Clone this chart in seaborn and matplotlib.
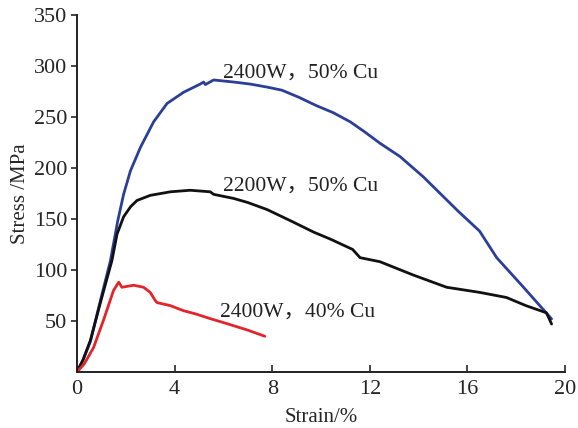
import numpy as np
import pandas as pd
import seaborn as sns
import matplotlib.pyplot as plt

# curves: strain (%) / stress (MPa)
strain_2400_50 = [0, 0.25, 0.55, 0.96, 1.37, 1.67, 1.91, 2.19, 2.6, 3.14, 3.69, 4.37,
                  5.05, 5.19, 5.26, 5.6, 6.42, 7.1, 7.8, 8.4, 9.1, 9.8, 10.5, 11.2,
                  11.8, 12.42, 13.24, 14.2, 15.6, 16.5, 17.2, 18.3, 19.45]
stress_2400_50 = [0, 12, 30, 70, 109, 148, 174, 197, 220, 245, 263, 274,
                  282, 284, 281.5, 286, 284, 282, 279, 276, 269, 261, 254, 245,
                  235, 224, 211, 191, 158, 138, 112, 83, 52]

strain_2200_50 = [0, 0.25, 0.55, 0.96, 1.43, 1.64, 1.91, 2.2, 2.46, 3.0, 3.83, 4.64,
                  5.46, 5.6, 6.42, 7.0, 7.8, 8.85, 9.7, 10.4, 11.3, 11.6, 12.42,
                  13.78, 15.15, 16.5, 17.6, 18.4, 19.24, 19.45]
stress_2200_50 = [0, 12, 31, 68, 109, 135, 152, 162, 168, 173, 176.5, 178,
                  176.5, 174, 170, 166, 159, 147, 137, 130, 120, 112, 108,
                  95, 83, 78, 73, 65, 58, 47]

strain_2400_40 = [0, 0.3, 0.68, 1.09, 1.5, 1.71, 1.84, 2.32, 2.73, 3.0, 3.21, 3.28,
                  3.83, 4.37, 4.85, 5.5, 6.2, 7.0, 7.7]
stress_2400_40 = [0, 8, 24, 51, 80, 88, 83, 85, 83, 78, 70, 68,
                  65, 60, 57, 52, 47, 41, 35]

labels = ["2400W，50% Cu", "2200W，50% Cu", "2400W，40% Cu"]
label_pos = [(5.98, 288), (6.0, 178), (5.86, 54.5)]
colors = ["#2b3f98", "#111111", "#e3242b"]

df = pd.concat([
    pd.DataFrame({"strain": strain_2400_50, "stress": stress_2400_50, "sample": labels[0]}),
    pd.DataFrame({"strain": strain_2200_50, "stress": stress_2200_50, "sample": labels[1]}),
    pd.DataFrame({"strain": strain_2400_40, "stress": stress_2400_40, "sample": labels[2]}),
])

sns.set_style("ticks")
plt.rcParams['font.family'] = ['Liberation Serif', 'Noto Sans CJK SC']

fig = plt.figure(figsize=(5.78, 4.28), dpi=100)
ax = fig.add_axes([0.1332, 0.1308, 0.8443, 0.835])

sns.lineplot(data=df, x="strain", y="stress", hue="sample", palette=colors,
             sort=False, estimator=None, linewidth=2.0, legend=False, ax=ax)

for txt, (x, y) in zip(labels, label_pos):
    ax.text(x, y, txt, fontsize=15.5, color="#222222", va="baseline", ha="left",
            family=['Liberation Serif', 'Noto Sans CJK SC'])

ax.set_xlim(0, 20)
ax.set_ylim(0, 350)
ax.set_xticks([0, 4, 8, 12, 16, 20])
ax.set_yticks([50, 100, 150, 200, 250, 300, 350])
ax.tick_params(axis="x", direction="in", length=5, width=1.2, labelsize=16, pad=6)
ax.tick_params(axis="y", direction="out", length=4, width=1.2, labelsize=16, pad=3)
ax.set_xlabel("Strain/%", fontsize=15, labelpad=6)
ax.set_ylabel("Stress /MPa", fontsize=15, labelpad=3)
sns.despine(ax=ax)
for s in ["left", "bottom"]:
    ax.spines[s].set_linewidth(1.4)
    ax.spines[s].set_color("#222222")

fig.savefig("out.png", dpi=100)
